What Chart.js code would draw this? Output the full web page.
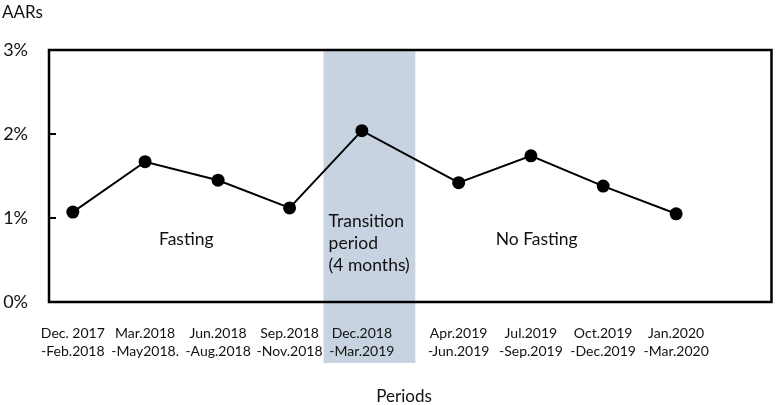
<!DOCTYPE html>
<html>
<head>
<meta charset="utf-8">
<script src="https://cdn.jsdelivr.net/npm/chart.js@4"></script>
<style>
  html, body { margin: 0; padding: 0; background: #fff; }
  #wrap { width: 778px; height: 405px; position: relative; }
</style>
</head>
<body>
<div id="wrap"><canvas id="c" width="778" height="405"></canvas></div>
<script>
// ---- data ----
const categories = [
  ["Dec. 2017", "-Feb.2018"],
  ["Mar.2018", "-May2018."],
  ["Jun.2018", "-Aug.2018"],
  ["Sep.2018", "-Nov.2018"],
  ["Dec.2018", "-Mar.2019"],
  ["Apr.2019", "-Jun.2019"],
  ["Jul.2019", "-Sep.2019"],
  ["Oct.2019", "-Dec.2019"],
  ["Jan.2020", "-Mar.2020"]
];
const periodPos = [0.33, 1.33, 2.34, 3.33, 4.33, 5.67, 6.67, 7.67, 8.68];
const aars = [1.07, 1.67, 1.45, 1.12, 2.04, 1.42, 1.74, 1.38, 1.05];
const yTickValues = [0, 1, 2, 3];
const transitionBand = [3.8, 5.07];
const yTitle = "AARs";
const xTitle = "Periods";
const notes = [
  { text: ["Fasting"], x: 1.90, y: 0.74, align: "center" },
  { text: ["Transition", "period", "(4 months)"], x: 3.87, y: 0.96, align: "left" },
  { text: ["No Fasting"], x: 6.75, y: 0.74, align: "center" }
];

const FONT = "Lato, 'Open Sans', sans-serif";

const decor = {
  id: 'decor',
  beforeDraw(chart) {
    const { ctx, chartArea, scales: { x } } = chart;
    const l = x.getPixelForValue(transitionBand[0]);
    const r = x.getPixelForValue(transitionBand[1]);
    ctx.save();
    ctx.fillStyle = 'rgb(200,211,225)';
    ctx.fillRect(l, chartArea.top, r - l, 363 - chartArea.top);
    ctx.restore();
  },
  beforeDatasetsDraw(chart) {
    const { ctx, chartArea: a, scales: { y } } = chart;
    ctx.save();
    ctx.strokeStyle = '#000';
    ctx.lineWidth = 2.5;
    ctx.strokeRect(a.left, a.top, a.right - a.left, a.bottom - a.top);
    ctx.lineWidth = 2;
    yTickValues.forEach(v => {
      const py = y.getPixelForValue(v);
      ctx.beginPath();
      ctx.moveTo(a.left, py);
      ctx.lineTo(a.left + 7, py);
      ctx.stroke();
    });
    ctx.restore();
  },
  afterDraw(chart) {
    const { ctx, chartArea: a, scales: { x, y } } = chart;
    ctx.save();
    ctx.fillStyle = '#111';
    ctx.textBaseline = 'middle';
    ctx.font = "17.5px " + FONT;
    notes.forEach(n => {
      ctx.textAlign = n.align;
      const px = x.getPixelForValue(n.x);
      const py = y.getPixelForValue(n.y);
      n.text.forEach((t, i) => ctx.fillText(t, px, py + i * 22));
    });
    ctx.textAlign = 'left';
    ctx.font = "17px " + FONT;
    ctx.fillText(yTitle, 2, 13);
    ctx.textAlign = 'center';
    ctx.fillText(xTitle, 404, 397);
    ctx.restore();
  }
};

new Chart(document.getElementById('c'), {
  type: 'line',
  data: {
    datasets: [{
      data: periodPos.map((p, i) => ({ x: p, y: aars[i] })),
      borderColor: '#000',
      borderWidth: 2,
      pointRadius: 6.5,
      pointHoverRadius: 6.5,
      pointBackgroundColor: '#000',
      pointBorderColor: '#000',
      pointBorderWidth: 0,
      tension: 0
    }]
  },
  options: {
    responsive: false,
    animation: false,
    events: [],
    layout: { padding: { top: 50, right: 2, left: 0, bottom: 0 } },
    plugins: { legend: { display: false }, tooltip: { enabled: false } },
    scales: {
      x: {
        type: 'linear',
        min: 0, max: 10,
        grid: { display: false, drawTicks: false },
        border: { display: false },
        afterBuildTicks: s => { s.ticks = periodPos.map(v => ({ value: v })); },
        afterFit: s => { s.height = 103; },
        ticks: {
          autoSkip: false, maxRotation: 0, minRotation: 0,
          padding: 22,
          color: '#111',
          font: { family: FONT, size: 14, lineHeight: 1.3 },
          callback: (v, i) => categories[i]
        }
      },
      y: {
        min: 0, max: 3,
        grid: { display: false, drawTicks: false },
        border: { display: false },
        afterBuildTicks: s => { s.ticks = yTickValues.map(v => ({ value: v })); },
        afterFit: s => { s.width = 49; },
        ticks: {
          padding: 21,
          color: '#111',
          font: { family: FONT, size: 18 },
          callback: v => v + '%'
        }
      }
    }
  },
  plugins: [decor]
});
</script>
</body>
</html>
